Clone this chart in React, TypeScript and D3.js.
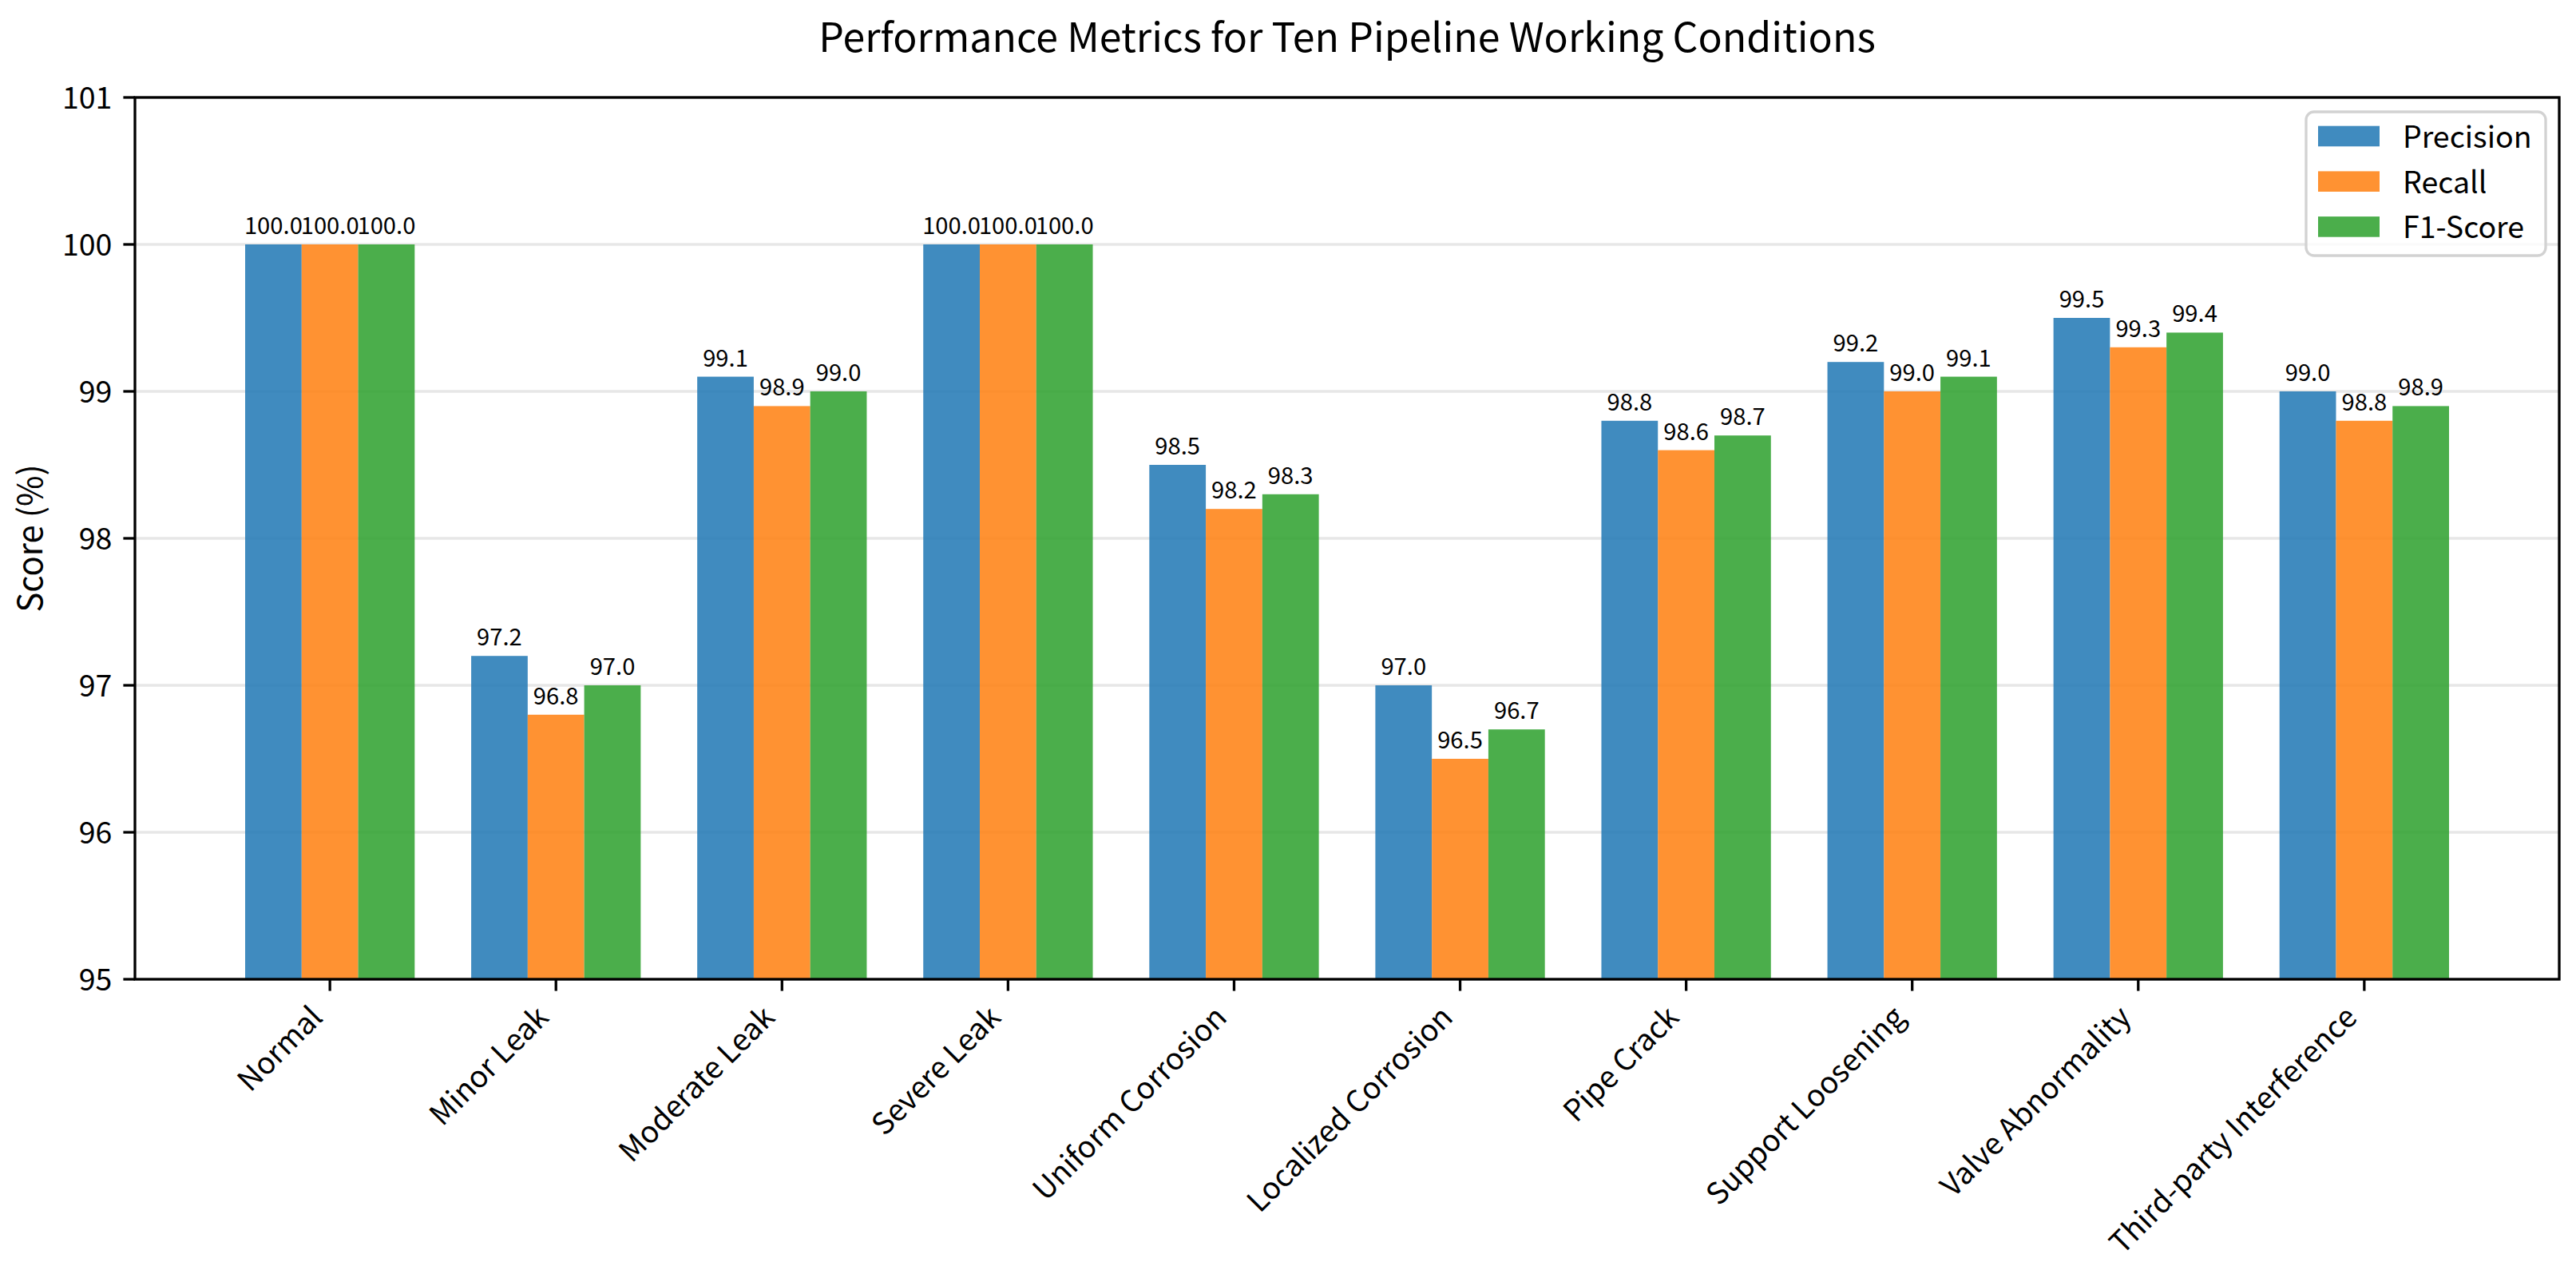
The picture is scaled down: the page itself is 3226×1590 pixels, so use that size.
import * as d3 from "d3";

const categories = [
  "Normal",
  "Minor Leak",
  "Moderate Leak",
  "Severe Leak",
  "Uniform Corrosion",
  "Localized Corrosion",
  "Pipe Crack",
  "Support Loosening",
  "Valve Abnormality",
  "Third-party Interference",
];

const precision = [100.0, 97.2, 99.1, 100.0, 98.5, 97.0, 98.8, 99.2, 99.5, 99.0];
const recall = [100.0, 96.8, 98.9, 100.0, 98.2, 96.5, 98.6, 99.0, 99.3, 98.8];
const f1Score = [100.0, 97.0, 99.0, 100.0, 98.3, 96.7, 98.7, 99.1, 99.4, 98.9];

const seriesNames = ["Precision", "Recall", "F1-Score"];
const seriesColors = ["#1f77b4", "#ff7f0e", "#2ca02c"];
const yTicks = [95, 96, 97, 98, 99, 100, 101];

const W = 3226;
const H = 1590;
const FONT = "'Noto Sans CJK SC', 'Noto Sans', sans-serif";

const margin = { left: 169, right: 3205, top: 122, bottom: 1226 };

const App = () => {
  const series = [precision, recall, f1Score];
  const barW = 0.25;
  const n = categories.length;
  // matplotlib-style auto margins (5%) around the bar extent
  const lo = -1.5 * barW;
  const hi = n - 1 + 1.5 * barW;
  const pad = (hi - lo) * 0.05;

  const x = d3.scaleLinear().domain([lo - pad, hi + pad]).range([margin.left, margin.right]);
  const y = d3.scaleLinear().domain([95, 101]).range([margin.bottom, margin.top]);
  const bw = x(barW) - x(0);

  const tickLen = 14.6;
  const lw = 3.3;
  const tickFont = 37.5;

  return (
    <svg
      width={W}
      height={H}
      viewBox={`0 0 ${W} ${H}`}
      style={{ position: "absolute", left: 0, top: 0, background: "#fff" }}
      fontFamily={FONT}
    >
      <rect width={W} height={H} fill="#fff" />

      {/* grid */}
      {yTicks.map((t) => (
        <line
          key={`g${t}`}
          x1={margin.left}
          x2={margin.right}
          y1={y(t)}
          y2={y(t)}
          stroke="#e7e7e7"
          strokeWidth={lw}
        />
      ))}

      {/* bars */}
      {series.map((vals, k) =>
        vals.map((v, i) => {
          const cx = x(i + (k - 1) * barW);
          return (
            <g key={`b${k}-${i}`}>
              <rect
                x={cx - bw / 2}
                y={y(v)}
                width={bw}
                height={y(95) - y(v)}
                fill={seriesColors[k]}
                fillOpacity={0.85}
              />
              <text x={cx} y={y(v) - 13} textAnchor="middle" fontSize={29.2} fill="#000">
                {v.toFixed(1)}
              </text>
            </g>
          );
        })
      )}

      {/* spines */}
      <rect
        x={margin.left}
        y={margin.top}
        width={margin.right - margin.left}
        height={margin.bottom - margin.top}
        fill="none"
        stroke="#000"
        strokeWidth={lw}
      />

      {/* y ticks */}
      {yTicks.map((t) => (
        <g key={`yt${t}`}>
          <line
            x1={margin.left - tickLen}
            x2={margin.left}
            y1={y(t)}
            y2={y(t)}
            stroke="#000"
            strokeWidth={lw}
          />
          <text x={margin.left - tickLen - 14} y={y(t) + 14} textAnchor="end" fontSize={tickFont}>
            {t}
          </text>
        </g>
      ))}

      {/* x ticks */}
      {categories.map((c, i) => (
        <g key={`xt${i}`}>
          <line
            x1={x(i)}
            x2={x(i)}
            y1={margin.bottom}
            y2={margin.bottom + tickLen}
            stroke="#000"
            strokeWidth={lw}
          />
          <text
            transform={`translate(${x(i) - 7},${margin.bottom + 50}) rotate(-45)`}
            textAnchor="end"
            fontSize={tickFont}
          >
            {c}
          </text>
        </g>
      ))}

      {/* y label */}
      <text
        transform={`translate(53,${(margin.top + margin.bottom) / 2}) rotate(-90)`}
        textAnchor="middle"
        fontSize={41.7}
      >
        Score (%)
      </text>

      {/* title */}
      <text x={(margin.left + margin.right) / 2} y={65} textAnchor="middle" fontSize={50}>
        Performance Metrics for Ten Pipeline Working Conditions
      </text>

      {/* legend */}
      <g>
        <rect
          x={2888}
          y={140}
          width={300}
          height={180}
          rx={10}
          fill="#fff"
          fillOpacity={0.8}
          stroke="#d2d2d2"
          strokeWidth={3.3}
        />
        {seriesNames.map((s, k) => (
          <g key={`l${s}`} transform={`translate(2903,${170.5 + k * 56.7})`}>
            <rect x={0} y={-12.8} width={77} height={25.6} fill={seriesColors[k]} fillOpacity={0.85} />
            <text x={106} y={14.5} fontSize={37.5}>
              {s}
            </text>
          </g>
        ))}
      </g>
    </svg>
  );
};

export default App;
